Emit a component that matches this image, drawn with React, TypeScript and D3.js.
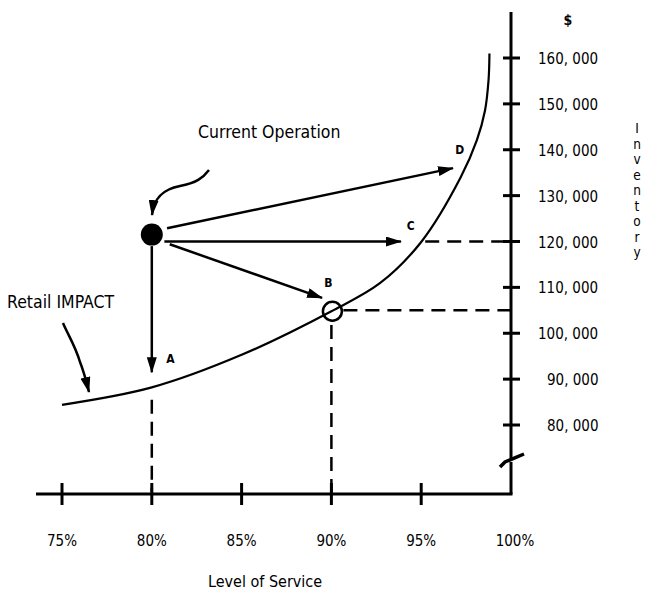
import * as d3 from "d3"

// level of service (%) ticks and inventory ($) ticks
const xTicks = [75, 80, 85, 90, 95, 100]
const yTicks = [160000, 150000, 140000, 130000, 120000, 110000, 100000, 90000, 80000]

// Retail IMPACT curve
const curveService = [75, 80, 85, 90, 92.7, 95, 97.2, 98.1, 98.55, 98.75, 98.8]
const curveInventory = [84400, 88200, 95300, 104800, 110900, 119900, 134000, 142100, 148500, 155200, 161000]

// current operation
const current = { service: 80, inventory: 121500 }

// the four moves: label, start, end
const moves = [
  { label: "A", from: [80, 119000], to: [80, 91500], labelAt: [80.8, 93500] },
  { label: "B", from: [81.0, 119400], to: [89.48, 107700], labelAt: [89.6, 110000] },
  { label: "C", from: [80.7, 120000], to: [93.87, 120000], labelAt: [94.2, 122500] },
  { label: "D", from: [80.85, 122900], to: [96.77, 136000], labelAt: [96.9, 139000] },
]

// point B on the curve
const pointB = { service: 90, inventory: 104800 }

const font = "'DejaVu Sans Condensed', 'Liberation Sans Narrow', sans-serif"

export default function App() {
  const x = d3.scaleLinear().domain([75, 100]).range([62, 511])
  const y = d3.scaleLinear().domain([80000, 160000]).range([425, 58])
  const axisY = 494
  const axisX = x(100)
  const ink = "#000"

  const curvePts = curveService.map((s, i) => [s, curveInventory[i]] as [number, number])
  const line = d3
    .line<[number, number]>()
    .x((d) => x(d[0]))
    .y((d) => y(d[1]))
    .curve(d3.curveCatmullRom.alpha(0.5))

  const fmt = (v: number) => d3.format(",")(v).replace(",", ", ")

  return (
    <svg width={648} height={593} style={{ position: "absolute", left: 0, top: 0, background: "#fff" }} fontFamily={font} fill={ink}>
      <defs>
        <marker id="head" viewBox="0 0 16 10" refX={15} refY={5} markerWidth={16} markerHeight={10} markerUnits="userSpaceOnUse" orient="auto">
          <path d="M0,0 L16,5 L0,10 Z" fill={ink} />
        </marker>
      </defs>

      {/* x axis */}
      <line x1={36} x2={axisX + 1.5} y1={axisY} y2={axisY} stroke={ink} strokeWidth={3} />
      {xTicks.slice(0, -1).map((t) => (
        <line key={t} x1={x(t)} x2={x(t)} y1={axisY - 11} y2={axisY + 11} stroke={ink} strokeWidth={3} />
      ))}
      {xTicks.map((t) => (
        <text key={t} x={x(t) + (t === 100 ? 4 : 0)} y={546} textAnchor="middle" fontSize={15}>
          {t}%
        </text>
      ))}
      <text x={265} y={587} textAnchor="middle" fontSize={16}>
        Level of Service
      </text>

      {/* y axis with break */}
      <line x1={axisX} x2={axisX} y1={12} y2={458} stroke={ink} strokeWidth={3} />
      <line x1={axisX} x2={axisX} y1={462} y2={axisY} stroke={ink} strokeWidth={3} />
      <path d={`M${axisX - 11},${467} L${axisX - 6},${462} L${axisX + 13},${454}`} fill="none" stroke={ink} strokeWidth={3.5} />
      {yTicks.map((t) => (
        <g key={t}>
          <line x1={axisX - 8} x2={axisX + 9} y1={y(t)} y2={y(t)} stroke={ink} strokeWidth={3} />
          <text x={t >= 100000 ? 538 : 547} y={y(t) + 6} fontSize={15}>
            {fmt(t)}
          </text>
        </g>
      ))}
      <text x={568} y={25} fontSize={14} fontWeight="bold" textAnchor="middle">
        $
      </text>
      <text x={637} y={133} fontSize={13.5} textAnchor="middle" fill={ink}>
        {"Inventory".split("").map((c, i) => (
          <tspan key={i} x={637} dy={i === 0 ? 0 : 15.5} fill={ink}>
            {c}
          </tspan>
        ))}
      </text>

      {/* dashed guides */}
      <g stroke={ink} strokeWidth={2.5} strokeDasharray="14 8" fill="none">
        <line x1={x(95) + 4} x2={axisX} y1={y(120000)} y2={y(120000)} />
        <line x1={x(pointB.service) + 12} x2={axisX} y1={y(105000)} y2={y(105000)} />
        <line x1={x(80)} x2={x(80)} y1={y(85500)} y2={axisY - 2} />
        <line x1={x(90)} x2={x(90)} y1={y(101800)} y2={axisY - 2} />
      </g>

      {/* curve */}
      <path d={line(curvePts) ?? ""} fill="none" stroke={ink} strokeWidth={2.2} />

      {/* moves */}
      {moves.map((m) => (
        <g key={m.label}>
          <line
            x1={x(m.from[0])}
            y1={y(m.from[1])}
            x2={x(m.to[0])}
            y2={y(m.to[1])}
            stroke={ink}
            strokeWidth={2.5}
            markerEnd="url(#head)"
          />
          <text x={x(m.labelAt[0])} y={y(m.labelAt[1])} fontSize={12} fontWeight="bold">
            {m.label}
          </text>
        </g>
      ))}

      {/* points */}
      <circle cx={x(current.service)} cy={y(current.inventory)} r={11} fill={ink} />
      <circle cx={x(pointB.service) + 1} cy={y(pointB.inventory)} r={9.5} fill="none" stroke={ink} strokeWidth={2.5} />

      {/* annotations */}
      <text x={198} y={138} fontSize={17.5}>
        Current Operation
      </text>
      <path d="M209,170 C203,178 196,183 180,186 C164,189 154,197 152,215" fill="none" stroke={ink} strokeWidth={2.5} markerEnd="url(#head)" />
      <text x={7} y={308} fontSize={17.5}>
        Retail IMPACT
      </text>
      <path d="M63,323 C68,335 75,345 80,362 C84,372 86,380 89,392" fill="none" stroke={ink} strokeWidth={2.5} markerEnd="url(#head)" />
    </svg>
  )
}
